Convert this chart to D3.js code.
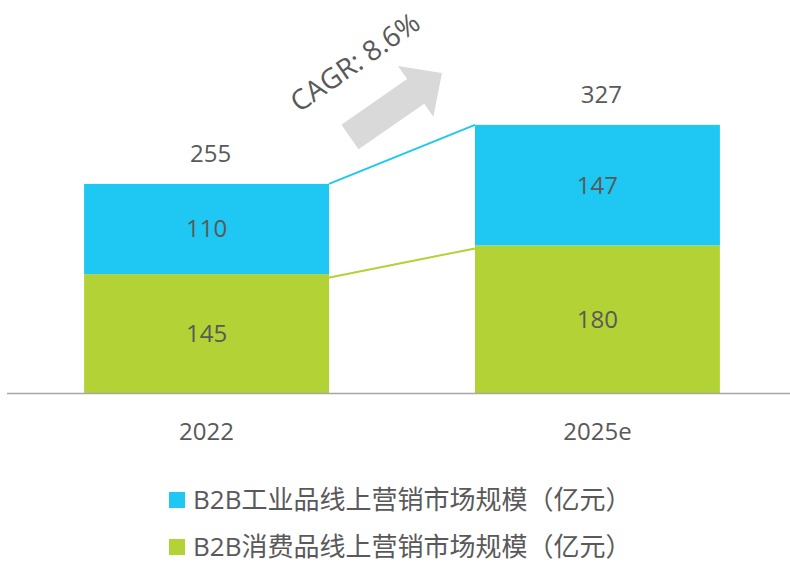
<!DOCTYPE html>
<html>
<head>
<meta charset="utf-8">
<script src="https://cdn.jsdelivr.net/npm/d3@7"></script>
<style>
  body { margin: 0; background: #fff; }
  text { font-family: "Open Sans", "Noto Sans CJK SC", sans-serif; fill: #595959; }
</style>
</head>
<body>
<div id="chart"></div>
<script>
const categories = ["2022", "2025e"];
const consumer = [145, 180];    // B2B消费品
const industrial = [110, 147];  // B2B工业品
const totals = [255, 327];
const seriesNames = ["B2B工业品线上营销市场规模（亿元）", "B2B消费品线上营销市场规模（亿元）"];
const cagrLabel = "CAGR: 8.6%";

const width = 790, height = 564;
const colors = { industrial: "#1ec8f2", consumer: "#b2d235" };
const baseY = 393;

const svg = d3.select("#chart").append("svg")
    .attr("width", width)
    .attr("height", height);

const x = d3.scaleBand()
    .domain(categories)
    .range([11, 793])
    .paddingInner(0.3734)
    .paddingOuter(0.187);

const y = d3.scaleLinear()
    .domain([0, 400])
    .range([baseY, baseY - 328]);

const data = categories.map((c, i) => ({
    cat: c, consumer: consumer[i], industrial: industrial[i], total: totals[i]
}));

// stacked bars
const bars = svg.append("g");
bars.selectAll(".cons").data(data).join("rect")
    .attr("x", d => x(d.cat))
    .attr("width", x.bandwidth())
    .attr("y", d => y(d.consumer))
    .attr("height", d => y(0) - y(d.consumer))
    .attr("fill", colors.consumer);

bars.selectAll(".ind").data(data).join("rect")
    .attr("x", d => x(d.cat))
    .attr("width", x.bandwidth())
    .attr("y", d => y(d.consumer + d.industrial))
    .attr("height", d => y(d.consumer) - y(d.consumer + d.industrial))
    .attr("fill", colors.industrial);

// connector lines between bar tops
const a = data[0], b = data[1];
const xr = x(a.cat) + x.bandwidth(), xl = x(b.cat);
svg.append("line")
    .attr("x1", xr).attr("y1", y(a.consumer + a.industrial))
    .attr("x2", xl).attr("y2", y(b.consumer + b.industrial))
    .attr("stroke", colors.industrial).attr("stroke-width", 2);
svg.append("line")
    .attr("x1", xr - 2).attr("y1", y(a.consumer) + 4)
    .attr("x2", xl).attr("y2", y(b.consumer) + 3)
    .attr("stroke", colors.consumer).attr("stroke-width", 2);

// segment labels
const labels = svg.append("g").attr("font-size", 24).attr("text-anchor", "middle");
labels.selectAll(".lc").data(data).join("text")
    .attr("x", d => x(d.cat) + x.bandwidth() / 2)
    .attr("y", d => y(d.consumer / 2))
    .attr("dy", "0.35em")
    .text(d => d.consumer);
labels.selectAll(".li").data(data).join("text")
    .attr("x", d => x(d.cat) + x.bandwidth() / 2)
    .attr("y", d => y(d.consumer + d.industrial / 2))
    .attr("dy", "0.35em")
    .text(d => d.industrial);
labels.selectAll(".lt").data(data).join("text")
    .attr("x", d => x(d.cat) + x.bandwidth() / 2 + 4)
    .attr("y", d => y(d.total) - 30)
    .attr("dy", "0.35em")
    .text(d => d.total);

// x axis
const xAxis = svg.append("g")
    .attr("transform", `translate(0,${baseY})`)
    .call(d3.axisBottom(x).tickSize(0).tickPadding(30));
xAxis.select(".domain").attr("d", "M7,0.5H790").attr("stroke", "#a6a6a6").attr("stroke-width", 1.5);
xAxis.selectAll(".tick text")
    .attr("font-size", 24)
    .style("font-family", "'Open Sans', sans-serif")
    .attr("fill", "#595959");

// CAGR arrow
const arrow = svg.append("g")
    .attr("transform", "translate(350,137) rotate(-34.8)");
arrow.append("path")
    .attr("d", "M0,-15 L80,-15 L80,-31 L112,0 L80,31 L80,15 L0,15 Z")
    .attr("fill", "#d9d9d9");
svg.append("text")
    .attr("transform", "translate(355,62) rotate(-34.8)")
    .attr("text-anchor", "middle")
    .attr("dy", "0.35em")
    .attr("font-size", 28)
    .text(cagrLabel);

// legend
const legend = svg.append("g");
const legendColors = [colors.industrial, colors.consumer];
seriesNames.forEach((name, i) => {
    const gy = 500 + i * 47;
    legend.append("rect")
        .attr("x", 169).attr("y", gy - 8)
        .attr("width", 16).attr("height", 16)
        .attr("fill", legendColors[i]);
    legend.append("text")
        .attr("x", 193).attr("y", gy)
        .attr("dy", "0.36em")
        .attr("font-size", 26)
        .text(name);
});
</script>
</body>
</html>
